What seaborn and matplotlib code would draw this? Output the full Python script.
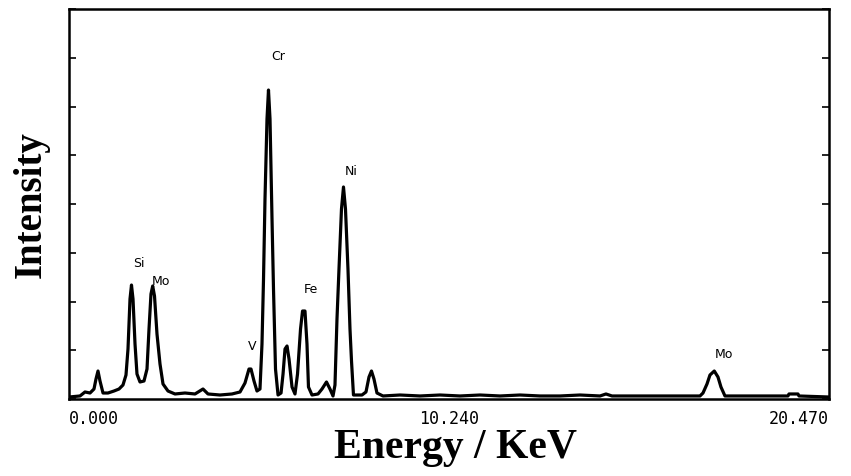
import matplotlib
matplotlib.use("Agg")
import matplotlib.pyplot as plt
import seaborn as sns
import pandas as pd

# Spectrum points (energy in keV, intensity in tick units)
energy = [0.000, 0.296, 0.431, 0.566, 0.673, 0.727, 0.781, 0.835, 0.916, 1.050,
          1.212, 1.347, 1.454, 1.535, 1.589, 1.643, 1.683, 1.724, 1.778, 1.831,
          1.912, 2.020, 2.101, 2.155, 2.208, 2.254, 2.303, 2.370, 2.451, 2.532,
          2.666, 2.855, 3.124, 3.394, 3.609, 3.744, 4.067, 4.390, 4.606, 4.740,
          4.848, 4.902, 4.983, 5.063, 5.144, 5.198, 5.239, 5.279, 5.333, 5.373,
          5.414, 5.468, 5.508, 5.562, 5.630, 5.711, 5.765, 5.818, 5.872, 5.926,
          6.007, 6.087, 6.155, 6.236, 6.290, 6.356, 6.410, 6.450, 6.545, 6.707,
          6.814, 6.935, 7.029, 7.111, 7.164, 7.218, 7.272, 7.339, 7.393, 7.447,
          7.514, 7.568, 7.609, 7.662, 7.891, 7.999, 8.080, 8.147, 8.214, 8.295,
          8.457, 8.915, 9.454, 9.992, 10.531, 11.070, 11.609, 12.147, 12.686, 13.225,
          13.763, 14.302, 14.463, 14.625, 15.379, 16.187, 16.726, 16.995, 17.076, 17.184,
          17.264, 17.380, 17.480, 17.560, 17.668, 18.072, 18.611, 19.365, 19.392, 19.634,
          19.662, 20.470]
intensity = [0.041, 0.062, 0.144, 0.123, 0.205, 0.410, 0.574, 0.369, 0.123, 0.123,
             0.164, 0.205, 0.287, 0.492, 1.026, 2.051, 2.338, 2.051, 1.128, 0.513,
             0.349, 0.369, 0.615, 1.436, 2.154, 2.318, 2.113, 1.333, 0.718, 0.308,
             0.164, 0.103, 0.123, 0.103, 0.205, 0.103, 0.082, 0.103, 0.144, 0.328,
             0.615, 0.615, 0.369, 0.164, 0.205, 1.128, 2.462, 4.103, 5.744, 6.338,
             5.744, 3.692, 2.256, 0.615, 0.082, 0.123, 0.513, 1.026, 1.087, 0.821,
             0.246, 0.103, 0.513, 1.436, 1.805, 1.805, 1.128, 0.246, 0.082, 0.103,
             0.205, 0.349, 0.205, 0.062, 0.287, 1.641, 2.667, 3.897, 4.349, 3.897,
             2.667, 1.436, 0.779, 0.082, 0.082, 0.144, 0.451, 0.574, 0.410, 0.123,
             0.062, 0.082, 0.062, 0.082, 0.062, 0.082, 0.062, 0.082, 0.062, 0.062,
             0.082, 0.062, 0.103, 0.062, 0.062, 0.062, 0.062, 0.062, 0.123, 0.308,
             0.492, 0.574, 0.451, 0.246, 0.062, 0.062, 0.062, 0.062, 0.103, 0.103,
             0.062, 0.041]

# Peak annotations
peak_labels = ["Si", "Mo", "V", "Cr", "Fe", "Ni", "Mo"]
peak_label_x = [1.885, 2.478, 4.929, 5.63, 6.518, 7.595, 17.64]
peak_label_y = [2.79, 2.44, 1.09, 7.04, 2.26, 4.68, 0.94]

xtick_values = [0.0, 10.24, 20.47]
xtick_labels = ["0.000", "10.240", "20.470"]

sns.set_style("ticks")
plt.rcParams["font.family"] = ["DejaVu Sans"]
plt.rcParams["text.color"] = "black"
plt.rcParams["axes.labelcolor"] = "black"
plt.rcParams["xtick.color"] = "black"
plt.rcParams["ytick.color"] = "black"

fig = plt.figure(figsize=(8.51, 4.77), dpi=100)
ax = fig.add_axes([69 / 851, 1 - 400 / 477, 760 / 851, 390 / 477])

df = pd.DataFrame({"Energy": energy, "Intensity": intensity})
sns.lineplot(data=df, x="Energy", y="Intensity", ax=ax, color="black",
             linewidth=2.3, sort=False, estimator=None)

ax.set_xlim(0, 20.47)
ax.set_ylim(0, 8)

for lab, x, y in zip(peak_labels, peak_label_x, peak_label_y):
    ax.text(x, y, lab, ha="center", va="center", fontsize=9,
            family="DejaVu Sans", color="black")

ax.set_yticks(range(0, 9))
ax.set_yticklabels([])
ax.tick_params(axis="y", direction="in", length=5, width=1.2,
               left=True, right=True, labelleft=False)
ax.set_xticks(xtick_values)
ax.set_xticklabels(xtick_labels, family="DejaVu Sans Mono", fontsize=12,
                   color="black")
ax.tick_params(axis="x", length=0, pad=7)
tl = ax.get_xticklabels()
tl[0].set_ha("left")
tl[2].set_ha("right")

for s in ax.spines.values():
    s.set_visible(True)
    s.set_linewidth(1.8)
    s.set_color("black")

ax.set_xlabel("Energy / KeV", family="Liberation Serif", fontweight="bold",
              fontsize=30, color="black")
ax.xaxis.set_label_coords(0.508, -0.074)
ax.set_ylabel("Intensity", family="Liberation Serif", fontweight="bold",
              fontsize=28, labelpad=14, color="black")

fig.savefig("out.png", dpi=100, facecolor="white")
